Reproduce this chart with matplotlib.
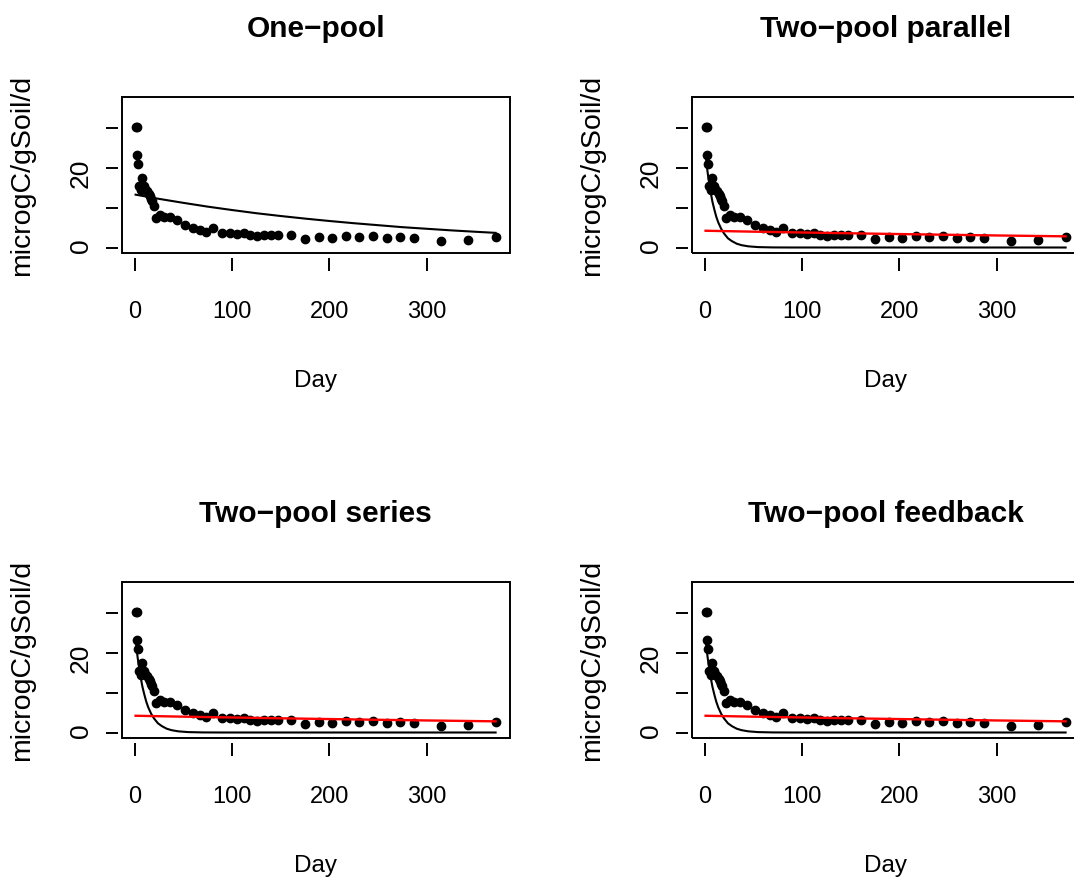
import matplotlib
matplotlib.use("Agg")
import matplotlib.pyplot as plt
from matplotlib.patches import Rectangle

plt.rcParams['font.family'] = ['Liberation Sans', 'DejaVu Sans']

days = [1.5, 2.5, 2.0, 3.7, 4.4, 6.2, 7.2, 8.0, 9.6, 11.0, 13.0, 14.5, 15.8, 17.0,
        18.2, 19.9, 22.3, 26.0, 30.2, 36.0, 43.9, 51.8, 60.0, 67.0, 73.7, 81.0,
        90.0, 98.0, 105.0, 112.0, 119.0, 126.0, 133.0, 140.0, 147.0, 161.0, 175.0,
        189.0, 203.0, 217.0, 231.0, 245.0, 259.0, 273.0, 287.0, 315.0, 343.0, 371.0]
resp = [30.3, 30.1, 23.3, 20.9, 15.3, 14.5, 17.4, 15.0, 15.3, 14.6, 14.1, 13.4, 12.8, 12.2,
        11.6, 10.3, 7.4, 8.2, 7.6, 7.7, 6.9, 5.6, 4.8, 4.3, 3.8, 5.0,
        3.6, 3.6, 3.4, 3.6, 3.2, 2.9, 3.1, 3.1, 3.2, 3.1, 2.2,
        2.6, 2.3, 3.0, 2.7, 2.8, 2.4, 2.6, 2.5, 1.7, 1.8, 2.7]

# one-pool fitted curve
one_days = [1, 25, 50, 75, 100, 125, 150, 175, 200, 225, 250, 275, 300, 325, 350, 371]
one_fit = [13.25, 12.2, 11.2, 10.25, 9.4, 8.6, 7.9, 7.25, 6.65, 6.1, 5.6, 5.1, 4.7, 4.3, 3.95, 3.67]

# two-pool fitted curves (fast pool in black, slow pool in red), same look in all three
fast_days = [1, 2, 3, 4, 6, 8, 10, 12, 14, 17, 20, 24, 28, 33, 38, 45, 55, 70, 90, 120, 200, 300, 371]
fast_fit = [23.3, 21.0, 19.0, 17.2, 14.1, 11.5, 9.5, 7.7, 6.3, 4.7, 3.5, 2.3, 1.6, 0.95, 0.58,
            0.29, 0.1, 0.02, 0.0, 0.0, 0.0, 0.0, 0.0]
slow_days = [1, 50, 100, 150, 200, 250, 300, 371]
slow_fit = [4.2, 3.97, 3.77, 3.56, 3.37, 3.19, 3.02, 2.8]

titles = ["One\u2212pool", "Two\u2212pool parallel", "Two\u2212pool series", "Two\u2212pool feedback"]

W, H = 1074, 881
fig = plt.figure(figsize=(W / 100, H / 100), dpi=100)

aw, ah = 388.3 / W, 156.6 / H
lefts = [121.7 / W, 691.7 / W]
bottoms = [1 - 253.3 / H, 1 - 738.3 / H]

xpad = 0.04 * (max(days) - min(days))
ymax = 1.2 * max(resp)

for i, title in enumerate(titles):
    ax = fig.add_axes([lefts[i % 2], bottoms[i // 2], aw, ah])
    ax.plot(days, resp, 'o', color='black', ms=6, mec='black')
    if i == 0:
        ax.plot(one_days, one_fit, color='black', lw=1.5)
    else:
        ax.plot(fast_days, fast_fit, color='black', lw=1.5)
        ax.plot(slow_days, slow_fit, color='#ff0000', lw=1.7)

    ax.set_xlim(min(days) - xpad, max(days) + xpad)
    ax.set_ylim(-0.04 * ymax, ymax * 1.04)

    # R-like box with detached tick marks
    for s in ax.spines.values():
        s.set_visible(False)
    ax.spines['left'].set_position(('outward', 2.4))
    ax.spines['bottom'].set_position(('outward', 3.6))
    ax.add_patch(Rectangle((0, 0), 1, 1, transform=ax.transAxes, fill=False,
                           lw=1.4, ec='black', clip_on=False))

    ax.set_xticks([0, 100, 200, 300])
    ax.set_xticklabels(['0', '100', '200', '300'], fontsize=17)
    ax.set_yticks([0, 10, 20, 30])
    ax.set_yticklabels(['0', '', '20', ''], fontsize=19)
    ax.tick_params(axis='x', direction='out', length=9.6, width=1.4, pad=21.5)
    ax.tick_params(axis='y', direction='out', length=8.9, width=1.4, pad=9.5, labelrotation=90)

    ax.set_title(title, fontsize=21.5, fontweight='bold', pad=43)
    ax.set_xlabel('Day', fontsize=17.5)
    ax.xaxis.set_label_coords(0.5, -0.743)
    ax.set_ylabel('microgC/gSoil/d', fontsize=20.5)
    ax.yaxis.set_label_coords(-0.223, 0.5)

fig.savefig('out.png', dpi=100)
